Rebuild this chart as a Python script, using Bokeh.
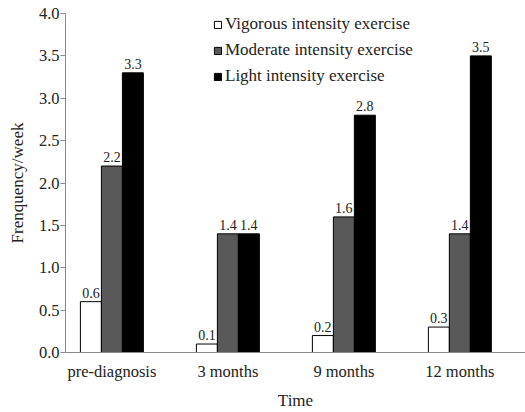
from bokeh.plotting import figure
from bokeh.models import (ColumnDataSource, FixedTicker, Range1d, LabelSet,
                          NumeralTickFormatter, Legend, LegendItem)
from bokeh.embed import file_html
from bokeh.resources import INLINE

categories = ["pre-diagnosis", "3 months", "9 months", "12 months"]
vigorous = [0.6, 0.1, 0.2, 0.3]
moderate = [2.2, 1.4, 1.6, 1.4]
light = [3.3, 1.4, 2.8, 3.5]
series_names = ["Vigorous intensity exercise", "Moderate intensity exercise",
                "Light intensity exercise"]
y_ticks = [0.0, 0.5, 1.0, 1.5, 2.0, 2.5, 3.0, 3.5, 4.0]

FONT = "Liberation Serif"
centers = [i + 0.4 for i in range(len(categories))]
bw = 0.181
offsets = [-bw, 0.0, bw]
fills = ["white", "#595959", "black"]
series = [vigorous, moderate, light]

p = figure(width=525, height=412, output_backend="svg", toolbar_location=None,
           x_range=Range1d(0, 3.966), y_range=Range1d(0, 4.0),
           min_border_left=65, min_border_right=0, min_border_top=13,
           min_border_bottom=56)
p.outline_line_color = None
p.xgrid.visible = False
p.ygrid.visible = False

items = []
for vals, off, col, name in zip(series, offsets, fills, series_names):
    src = ColumnDataSource(dict(x=[c + off for c in centers], top=vals,
                                lab=["%.1f" % v for v in vals]))
    r = p.vbar(x="x", top="top", width=bw, bottom=0, source=src,
               fill_color=col, line_color="black", line_width=1)
    items.append(LegendItem(label=name, renderers=[r]))
    p.add_layout(LabelSet(x="x", y="top", text="lab", source=src,
                          text_align="center", text_baseline="bottom",
                          y_offset=4, text_font=FONT, text_font_size="14px",
                          text_color="#222222"))

legend = Legend(items=items, location=(148, 266), glyph_width=9,
                glyph_height=9, label_standoff=3, spacing=6, padding=0,
                label_height=20, label_text_font=FONT,
                label_text_font_size="17px", label_text_color="#222222",
                border_line_alpha=0, background_fill_alpha=0)
p.add_layout(legend)

# y axis
p.yaxis.ticker = FixedTicker(ticks=y_ticks)
p.yaxis.formatter = NumeralTickFormatter(format="0.0")
p.yaxis.major_tick_out = 5
p.yaxis.major_tick_in = 0
p.yaxis.minor_tick_line_color = None
p.yaxis.axis_label = "Frenquency/week"
p.yaxis.axis_label_standoff = 9
p.yaxis.major_label_standoff = 1

# x axis
p.xaxis.ticker = FixedTicker(ticks=centers, minor_ticks=[1, 2, 3])
p.xaxis.major_label_overrides = {c: n for c, n in zip(centers, categories)}
p.xaxis.major_tick_out = 0
p.xaxis.major_tick_in = 0
p.xaxis.minor_tick_out = 5
p.xaxis.minor_tick_in = 0
p.xaxis.major_label_standoff = 4
p.xaxis.axis_label = "Time"
p.xaxis.axis_label_standoff = 7

for ax in (p.xaxis, p.yaxis):
    ax.axis_line_color = "#8a8a8a"
    ax.major_tick_line_color = "#8a8a8a"
    ax.minor_tick_line_color = "#8a8a8a" if ax is p.xaxis else None
    ax.major_label_text_font = FONT
    ax.major_label_text_font_size = "16.5px"
    ax.major_label_text_color = "#222222"
    ax.axis_label_text_font = FONT
    ax.axis_label_text_font_size = "17px"
    ax.axis_label_text_font_style = "normal"
    ax.axis_label_text_color = "#222222"

open("out.html", "w").write(file_html(p, INLINE))
